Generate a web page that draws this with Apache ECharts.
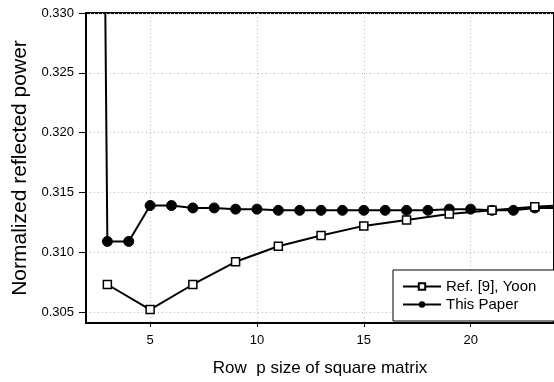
<!DOCTYPE html>
<html>
<head>
<meta charset="utf-8">
<script src="https://cdn.jsdelivr.net/npm/echarts@6/dist/echarts.min.js"></script>
<style>
  html, body { margin: 0; padding: 0; background: #fff; }
  #chart { width: 554px; height: 382px; }
</style>
</head>
<body>
<div id="chart"></div>
<script>
// row size p for "This Paper" (every integer), Ref. [9] only at odd sizes
var thisX = [2, 3, 4, 5, 6, 7, 8, 9, 10, 11, 12, 13, 14, 15, 16, 17, 18, 19, 20, 21, 22, 23, 24]
var thisPaper = [0.51, 0.3109, 0.3109, 0.3139, 0.3139, 0.3137, 0.3137, 0.3136, 0.3136, 0.3135, 0.3135, 0.3135,
  0.3135, 0.3135, 0.3135, 0.3135, 0.3135, 0.3136, 0.3136, 0.3135, 0.3135, 0.3137, 0.3137]
var refX = [3, 5, 7, 9, 11, 13, 15, 17, 19, 21, 23, 25]
var refYoon = [0.3073, 0.3052, 0.3073, 0.3092, 0.3105, 0.3114, 0.3122, 0.3127, 0.3132, 0.3135, 0.3138, 0.3140]
var xTicks = [5, 10, 15, 20]
var yTicks = [0.305, 0.310, 0.315, 0.320, 0.325, 0.330]

function pairs(xs, ys) {
  return xs.map(function (x, i) { return [x, ys[i]] })
}

var chart = echarts.init(document.getElementById('chart'))
chart.setOption({
  animation: false,
  grid: {
    left: 86, top: 13, right: -2, bottom: 58,
    show: true, borderColor: '#000', borderWidth: 2
  },
  legend: {
    orient: 'vertical',
    left: 393,
    top: 270,
    padding: [9, 30, 9, 9],
    itemGap: 3,
    itemWidth: 38,
    itemHeight: 8,
    backgroundColor: '#fff',
    borderColor: '#000',
    borderWidth: 1,
    borderRadius: 0,
    textStyle: { fontFamily: 'Liberation Sans, Arial', fontSize: 15, color: '#000', lineHeight: 15 },
    data: ['Ref. [9], Yoon', 'This Paper']
  },
  xAxis: {
    type: 'value',
    min: 2,
    max: 23.9,
    name: 'Row  p size of square matrix',
    nameLocation: 'middle',
    nameGap: 37,
    nameTextStyle: { fontFamily: 'Liberation Sans, Arial', fontSize: 17, color: '#000' },
    axisLine: { lineStyle: { color: '#000', width: 2 } },
    axisTick: { customValues: xTicks, length: 4, lineStyle: { color: '#000' } },
    axisLabel: {
      customValues: xTicks, margin: 11,
      fontFamily: 'Liberation Sans, Arial', fontSize: 13, color: '#000'
    },
    splitLine: { show: true, lineStyle: { color: '#bbb', type: [1, 3] } }
  },
  yAxis: {
    type: 'value',
    min: 0.30408,
    max: 0.330,
    name: 'Normalized reflected power',
    nameLocation: 'middle',
    nameGap: 54,
    nameTextStyle: { fontFamily: 'Liberation Sans, Arial', fontSize: 21, color: '#000' },
    axisLine: { show: true, lineStyle: { color: '#000', width: 2 } },
    axisTick: { show: true, customValues: yTicks, length: 7, lineStyle: { color: '#000' } },
    axisLabel: {
      customValues: yTicks, margin: 12,
      fontFamily: 'Liberation Sans, Arial', fontSize: 13, color: '#000',
      formatter: function (v) { return v.toFixed(3) }
    },
    splitLine: { show: true, lineStyle: { color: '#bbb', type: [1, 3] } }
  },
  series: [
    {
      name: 'This Paper',
      type: 'line',
      data: pairs(thisX, thisPaper),
      symbol: 'circle',
      symbolSize: 10,
      showAllSymbol: true,
      lineStyle: { color: '#000', width: 2 },
      itemStyle: { color: '#000', borderColor: '#000' }
    },
    {
      name: 'Ref. [9], Yoon',
      type: 'line',
      data: pairs(refX, refYoon),
      symbol: 'rect',
      symbolSize: 8,
      showAllSymbol: true,
      lineStyle: { color: '#000', width: 2 },
      itemStyle: { color: '#fff', borderColor: '#000', borderWidth: 1.5 }
    }
  ]
})
</script>
</body>
</html>
